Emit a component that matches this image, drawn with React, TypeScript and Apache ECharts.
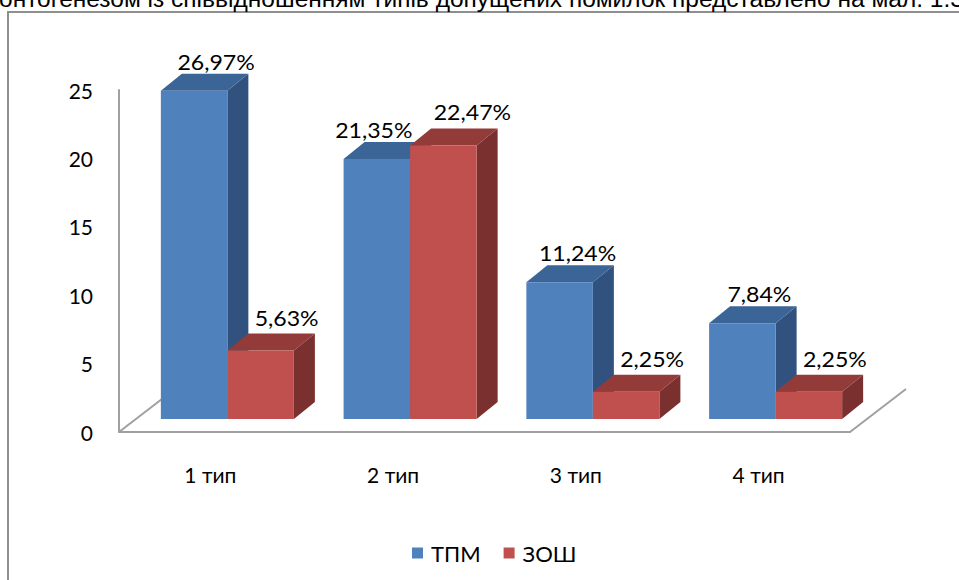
import React, { useEffect, useRef } from "react";
import * as echarts from "echarts";

const categories = ["1 тип", "2 тип", "3 тип", "4 тип"];
const seriesNames = ["ТПМ", "ЗОШ"];
const tpmValues = [24, 19, 10, 7];
const zoshValues = [5, 20, 2, 2];
const tpmLabels = ["26,97%", "21,35%", "11,24%", "7,84%"];
const zoshLabels = ["5,63%", "22,47%", "2,25%", "2,25%"];
const yMin = 0;
const yMax = 25;
const yInterval = 5;
const captionText =
  "онтогенезом із співвідношенням типів допущених помилок представлено на мал. 1.3";

const W = 959;
const H = 580;
const GRID_LEFT = 119;
const GRID_RIGHT = 109;
const GRID_TOP = 90;
const GRID_BOTTOM = 148;
const FONT = "Lato, 'Open Sans', sans-serif";

// label placement (layout only)
const tpmLabelShiftX = [22, -3, 18, 17];
const zoshLabelShiftX = [26, 29, 26, 26];
const tpmLabelShiftY = -29;
const zoshLabelShiftY = -33;

const palettes = [
  { front: "#4F81BD", top: "#3B6596", side: "#31527E" },
  { front: "#C0504D", top: "#923B39", side: "#7A302F" },
];

function makeRender(
  seriesIdx: number,
  labels: string[],
  shiftX: number[],
  shiftY: number
) {
  return (params: any, api: any) => {
    const idx = api.value(0);
    const v = api.value(1);
    const base = api.coord([idx, 0]);
    const top = api.coord([idx, v]);
    const band = api.size([1, 0])[0];
    const bw = band * 0.364;
    const fx = band * 0.093;
    const fy = -13;
    const dx = 21;
    const dy = -17;
    const left = seriesIdx === 0 ? base[0] - bw + fx : base[0] + fx;
    const yb = base[1] + fy;
    const yt = top[1] + fy;
    const pal = palettes[seriesIdx];
    return {
      type: "group",
      children: [
        {
          type: "polygon",
          shape: {
            points: [
              [left + bw, yt],
              [left + bw + dx, yt + dy],
              [left + bw + dx, yb + dy],
              [left + bw, yb],
            ],
          },
          style: { fill: pal.side },
        },
        {
          type: "polygon",
          shape: {
            points: [
              [left, yt],
              [left + dx, yt + dy],
              [left + bw + dx, yt + dy],
              [left + bw, yt],
            ],
          },
          style: { fill: pal.top },
        },
        {
          type: "rect",
          shape: { x: left, y: yt, width: bw, height: yb - yt },
          style: { fill: pal.front },
        },
        {
          type: "text",
          x: left + bw / 2 + shiftX[params.dataIndex],
          y: yt + shiftY,
          scaleX: 1.1,
          style: {
            text: labels[params.dataIndex],
            fill: "#000",
            font: `21px ${FONT}`,
            align: "center",
            verticalAlign: "middle",
          },
        },
      ],
    };
  };
}

export default function App() {
  const ref = useRef<HTMLDivElement>(null);
  useEffect(() => {
    if (!ref.current) return;
    const chart = echarts.init(ref.current, undefined, { renderer: "svg" });
    const floorRight = W - GRID_RIGHT;
    const floorY = H - GRID_BOTTOM;
    const depthX = 56;
    const depthY = -43;
    chart.setOption({
      animation: false,
      backgroundColor: "#fff",
      textStyle: { fontFamily: FONT },
      grid: {
        left: GRID_LEFT,
        right: GRID_RIGHT,
        top: GRID_TOP,
        bottom: GRID_BOTTOM,
        containLabel: false,
      },
      legend: {
        data: seriesNames,
        left: 407,
        top: 537,
        icon: "rect",
        itemWidth: 11,
        itemHeight: 11,
        itemGap: 23,
        textStyle: {
          fontFamily: FONT,
          fontSize: 22,
          color: "#000",
          padding: [0, 0, 0, 3],
        },
      },
      xAxis: {
        type: "category",
        data: categories,
        axisLine: { show: true, lineStyle: { color: "#A0A0A0", width: 2 } },
        axisTick: { show: false },
        axisLabel: { fontSize: 21, color: "#000", margin: 32, fontFamily: FONT },
        splitLine: { show: false },
      },
      yAxis: {
        type: "value",
        min: yMin,
        max: yMax,
        interval: yInterval,
        axisLine: { show: true, lineStyle: { color: "#A0A0A0", width: 2 } },
        axisTick: { show: false },
        axisLabel: { fontSize: 21, color: "#000", margin: 26, fontFamily: FONT },
        splitLine: { show: false },
      },
      graphic: [
        {
          type: "rect",
          z: 0,
          shape: { x: 8, y: 12, width: 1000, height: 700 },
          style: { fill: "none", stroke: "#8E8E8E", lineWidth: 2 },
        },
        {
          type: "text",
          z: 0,
          x: -1,
          y: -2,
          style: {
            text: captionText,
            font: "24.5px 'Liberation Sans', Arial, sans-serif",
            fill: "#000",
            align: "left",
            verticalAlign: "middle",
          },
        },
        {
          type: "line",
          z: 0,
          shape: {
            x1: GRID_LEFT,
            y1: floorY,
            x2: GRID_LEFT + depthX,
            y2: floorY + depthY,
          },
          style: { stroke: "#A0A0A0", lineWidth: 2 },
        },
        {
          type: "line",
          z: 0,
          shape: {
            x1: floorRight,
            y1: floorY,
            x2: floorRight + depthX,
            y2: floorY + depthY,
          },
          style: { stroke: "#A0A0A0", lineWidth: 2 },
        },
      ],
      series: [
        {
          name: seriesNames[0],
          type: "custom",
          itemStyle: { color: palettes[0].front },
          renderItem: makeRender(0, tpmLabels, tpmLabelShiftX, tpmLabelShiftY),
          encode: { x: 0, y: 1 },
          data: tpmValues.map((v, i) => [i, v]),
          z: 2,
        },
        {
          name: seriesNames[1],
          type: "custom",
          itemStyle: { color: palettes[1].front },
          renderItem: makeRender(1, zoshLabels, zoshLabelShiftX, zoshLabelShiftY),
          encode: { x: 0, y: 1 },
          data: zoshValues.map((v, i) => [i, v]),
          z: 3,
        },
      ],
    });
    return () => chart.dispose();
  }, []);
  return (
    <div
      ref={ref}
      style={{ position: "fixed", left: 0, top: 0, width: W, height: H }}
    />
  );
}
